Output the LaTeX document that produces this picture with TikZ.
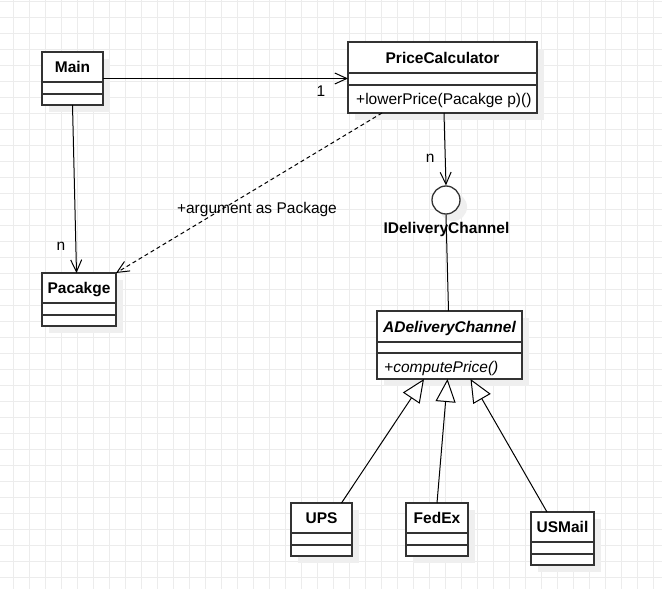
\documentclass[tikz,border=0pt]{standalone}
\usepackage{fontspec}
\setmainfont{Liberation Sans}
\usetikzlibrary{arrows.meta}

\definecolor{gridgray}{HTML}{ECECEC}
\definecolor{shadowgray}{HTML}{EFEFEF}
\definecolor{boxgray}{HTML}{333333}

\tikzset{
	classbox/.style={draw=boxgray,line width=1.3pt,fill=white,anchor=north west,inner sep=0pt,outer sep=0pt},
	classline/.style={draw=boxgray,line width=1.3pt},
	classname/.style={font=\bfseries,inner sep=0pt},
	opstext/.style={anchor=base west,inner sep=0pt},
	gridline/.style={gridgray,line width=1pt},
	assoc/.style={line width=1pt,-{Straight Barb[length=12pt,width=11pt]}},
	depend/.style={assoc,dash pattern=on 4pt off 3pt},
	inherit/.style={line width=1pt,-{Triangle[length=23pt,width=20pt,fill=white]}},
}

% name, x, y, width, height, first rule, second rule, title
\newcommand{\umlclass}[8]{%
	\fill[shadowgray] (#2+7,#3+7) rectangle ++(#4,#5);
	\node[classbox,minimum width=#4,minimum height=#5] (#1) at (#2,#3) {};
	\draw[classline] (#2,#3+#6) -- ++(#4,0);
	\draw[classline] (#2,#3+#7) -- ++(#4,0);
	\node[classname,anchor=base] (#1-title) at (#2+#4/2,#3+#6/2+5.5) {#8};
}

\begin{document}
\fontsize{15.5}{18}\selectfont
\begin{tikzpicture}[x=1pt,y=-1pt]
\useasboundingbox (0,0) rectangle (662,589);
\fill[white] (0,0) rectangle (662,589);

% grid
\foreach \i in {0,...,40}
	{
	\draw[gridline] (13+16*\i,0) -- (13+16*\i,589);
	}
\foreach \j in {0,...,36}
	{
	\draw[gridline] (0,1+16*\j) -- (662,1+16*\j);
	}

% classes
\foreach \name/\x/\y/\w/\title in {main/42/52/61/Main, pkg/42/273/74/Pacakge, ups/291/503/61/UPS, fedex/406/503/62/FedEx, usmail/531/512/63/USMail}
	{
	\umlclass{\name}{\x}{\y}{\w}{53}{30}{42}{\title}
	}
\umlclass{pc}{348}{42}{189}{71}{31}{43}{PriceCalculator}
\node[opstext] (pc-ops) at (356,104) {+lowerPrice(Pacakge p)()};
\umlclass{adc}{377}{311}{145}{68}{31}{42}{\itshape ADeliveryChannel}
\node[opstext,font=\itshape] (adc-ops) at (384,372.5) {+computePrice()};

% interface
\fill[shadowgray] (453,207) circle[radius=14pt];
\node[circle,draw=boxgray,line width=1.3pt,fill=white,minimum size=28,inner sep=0pt] (iface) at (446,200) {};
\node[classname] (iface-name) at (446.5,229) {IDeliveryChannel};

% connectors
\draw[assoc] (main.east) -- (main.east -| pc.west)
	node[pos=0.89,yshift=-12.5pt] (one) {1};
\draw[assoc] (main.south) -- ([xshift=-2.5pt]pkg.north)
	node[pos=0.84,xshift=-15pt] (n-pkg) {n};
\draw[depend] ([xshift=34pt]pc.south west) -- (pkg.north east)
	node[pos=0.47,yshift=-21pt] (arg) {+argument as Package};
\draw[assoc] ([xshift=1.5pt]pc.south) -- (iface.north)
	node[pos=0.62,xshift=-15pt] (n-iface) {n};
\draw[line width=1pt] (iface.south) -- ([xshift=-1pt]adc.north);
\draw[inherit] ([xshift=20pt]ups.north) -- ([xshift=47pt]adc.south west);
\draw[inherit] (fedex.north) -- ([xshift=-2pt]adc.south);
\draw[inherit] ([xshift=16pt]usmail.north west) -- ([xshift=21pt]adc.south);
\end{tikzpicture}
\end{document}
